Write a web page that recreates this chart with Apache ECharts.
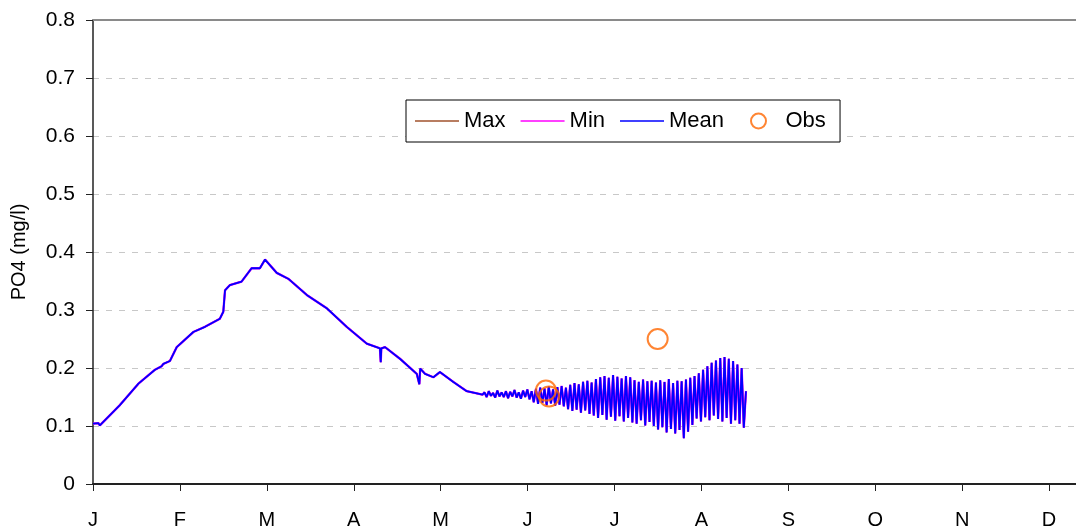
<!DOCTYPE html>
<html lang="en">
<head>
<meta charset="UTF-8">
<title>PO4</title>
<script src="https://cdn.jsdelivr.net/npm/echarts@6/dist/echarts.min.js"></script>
<style>
html,body{margin:0;padding:0;background:#fff}
#chartBox{width:1076px;height:531px}
</style>
</head>
<body>
<div id="chartBox"></div>
<script>
// month letters on the x axis (ticks every 365/12 days)
const monthLabels = ['J','F','M','A','M','J','J','A','S','O','N','D'];
const monthLen = 365 / 12;

// smooth part of the simulated series: day of year / PO4 (mg/l)
const smoothDays = [0, 1.9, 2.4, 9.4, 15.9, 21.7, 24.0, 24.6, 26.9, 29.3, 35.1, 39.2, 44.4, 45.6, 46.2, 47.9, 52.0,
    55.5, 58.4, 60.2, 60.8, 64.3, 68.3, 74.8, 81.8, 88.8, 95.8, 100.4, 100.7, 100.9, 102.2, 107.4,
    113.3, 114.2, 114.5, 116.2, 119.1, 121.4, 126.1, 130.8, 136.3];
const smoothValues = [0.104, 0.105, 0.101, 0.136, 0.173, 0.197, 0.203, 0.207, 0.212, 0.236, 0.262, 0.271, 0.285, 0.297, 0.334, 0.343, 0.349,
    0.372, 0.372, 0.387, 0.386, 0.364, 0.354, 0.326, 0.303, 0.271, 0.242, 0.234, 0.210, 0.234, 0.236, 0.216,
    0.190, 0.172, 0.199, 0.190, 0.184, 0.193, 0.176, 0.160, 0.154];

// oscillating part (tidal swings), sampled every 0.75 day from day 137
const oscStart = 137;
const oscStep = 0.75;
const oscValues = [
    0.158, 0.150, 0.160, 0.152, 0.157, 0.149, 0.161, 0.151, 0.158, 0.150, 0.160, 0.148, 0.159, 0.151, 0.162, 0.149, 0.158, 0.147, 0.161, 0.150, 0.163, 0.146, 0.160,
    0.141, 0.164, 0.138, 0.166, 0.140, 0.165, 0.136, 0.168, 0.139, 0.163, 0.135, 0.167, 0.137, 0.169, 0.134, 0.166,
    0.129, 0.171, 0.126, 0.174, 0.128, 0.172, 0.123, 0.176, 0.127, 0.178, 0.121, 0.175,
    0.118, 0.181, 0.114, 0.184, 0.119, 0.186, 0.111, 0.183, 0.116, 0.188, 0.109, 0.185, 0.117, 0.182, 0.108, 0.186, 0.114, 0.184, 0.106,
    0.179, 0.104, 0.176, 0.110, 0.180, 0.101, 0.177, 0.107, 0.178,
    0.100, 0.175, 0.094, 0.179, 0.098, 0.176, 0.089, 0.181, 0.095, 0.174, 0.087, 0.178, 0.093, 0.177, 0.079, 0.180, 0.090, 0.183, 0.102,
    0.186, 0.113, 0.191, 0.108, 0.197, 0.115, 0.203, 0.110, 0.209, 0.118, 0.213, 0.112,
    0.217, 0.108, 0.219, 0.114, 0.216, 0.104, 0.212, 0.110, 0.206, 0.104, 0.200, 0.097, 0.160
];

// observations
const obsDays = [158.5, 159.6, 197.6];
const obsValues = [0.161, 0.151, 0.250];

const yTicks = ['0', '0.1', '0.2', '0.3', '0.4', '0.5', '0.6', '0.7', '0.8'];

function buildLine() {
    let pts = smoothDays.map((d, i) => [d, smoothValues[i]]);
    oscValues.forEach((v, i) => pts.push([oscStart + i * oscStep, v]));
    return pts;
}

function generateChartOption() {
    let linePts = buildLine();
    let font = 'Liberation Sans, Arial, sans-serif';
    let monthTicks = monthLabels.map((m, i) => i * monthLen);
    let lineIcon = 'path://M0,0H44V1.3H0Z';
    let legendText = {fontSize: 22, fontFamily: font, color: '#000'};
    return {
        animation: false,
        backgroundColor: '#ffffff',
        grid: {left: 93, right: 0, top: 20, bottom: 47},
        xAxis: [
            {
                type: 'value',
                min: 0,
                max: 344,
                axisLine: {lineStyle: {color: '#222', width: 2}},
                axisTick: {show: true, length: 7, customValues: monthTicks, lineStyle: {color: '#222', width: 1}},
                axisLabel: {
                    margin: 26,
                    fontSize: 20,
                    fontFamily: font,
                    color: '#000',
                    customValues: monthTicks,
                    formatter: function (v) {
                        return monthLabels[Math.round(v / monthLen)] || '';
                    }
                },
                splitLine: {show: false}
            },
            {
                type: 'value',
                position: 'top',
                min: 0,
                max: 344,
                axisLine: {show: true, lineStyle: {color: '#8a8a8a', width: 2}},
                axisTick: {show: false},
                axisLabel: {show: false},
                splitLine: {show: false}
            }
        ],
        yAxis: {
            type: 'value',
            min: 0,
            max: 0.8,
            interval: 0.1,
            name: 'PO4 (mg/l)',
            nameLocation: 'middle',
            nameGap: 64,
            nameTextStyle: {fontSize: 20, fontFamily: font, color: '#000'},
            axisLine: {show: true, lineStyle: {color: '#222', width: 1.5}},
            axisTick: {show: true, length: 7, lineStyle: {color: '#222'}},
            axisLabel: {
                margin: 18,
                fontSize: 21,
                fontFamily: font,
                color: '#000',
                formatter: function (v) { return yTicks[Math.round(v * 10)]; }
            },
            splitLine: {show: true, lineStyle: {color: '#c8c8c8', type: [6, 7], width: 1}}
        },
        legend: [
            {
                // framed box holding the three lines, right padding leaves room for Obs
                left: 406,
                top: 100,
                z: 4,
                backgroundColor: '#ffffff',
                borderColor: '#000',
                borderWidth: 1,
                borderRadius: 0,
                padding: [10, 116, 10, 9],
                itemWidth: 44,
                itemHeight: 15,
                itemGap: 15,
                textStyle: legendText,
                data: [
                    {name: 'Max', icon: lineIcon},
                    {name: 'Min', icon: lineIcon},
                    {name: 'Mean', icon: lineIcon}
                ]
            },
            {
                left: 750,
                top: 110,
                z: 6,
                padding: 0,
                itemWidth: 44,
                itemHeight: 15,
                textStyle: legendText,
                data: [{name: 'Obs'}]
            }
        ],
        series: [
            {
                type: 'line',
                name: 'Max',
                symbol: 'none',
                color: '#a0522d',
                lineStyle: {width: 1.6, color: '#a0522d'},
                data: linePts
            },
            {
                type: 'line',
                name: 'Min',
                symbol: 'none',
                color: '#ff00ff',
                lineStyle: {width: 2.3, color: '#ff00ff'},
                data: linePts
            },
            {
                type: 'line',
                name: 'Mean',
                symbol: 'none',
                color: '#0000ff',
                lineStyle: {width: 1.8, color: '#0000ff'},
                data: linePts
            },
            {
                type: 'scatter',
                name: 'Obs',
                symbol: 'circle',
                symbolSize: 20,
                itemStyle: {color: 'rgba(0,0,0,0)', borderColor: '#ff6600', borderWidth: 2},
                z: 5,
                data: obsDays.map((d, i) => [d, obsValues[i]])
            }
        ]
    };
}

let chartObj = echarts.init(document.getElementById('chartBox'));
chartObj.setOption(generateChartOption());
</script>
</body>
</html>
